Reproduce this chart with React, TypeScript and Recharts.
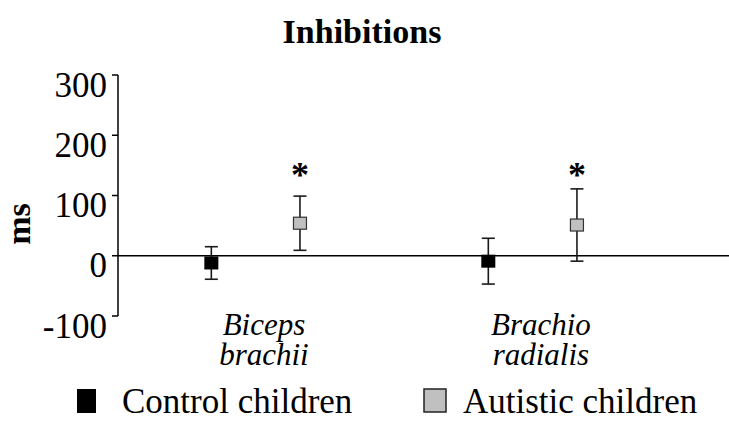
import { ComposedChart, Scatter, XAxis, YAxis, ErrorBar, ReferenceLine, Legend } from 'recharts';

const categories = ['Biceps brachii', 'Brachio radialis'];
const controlMeans = [-12, -9];
const controlErrors = [27, 38];
const autisticMeans = [54, 51];
const autisticErrors = [45, 60];
const significant = [true, true];
const yTicks = [-100, 0, 100, 200, 300];
const starLevel = 145;

const SERIF = '"Liberation Serif", "Times New Roman", serif';
// horizontal placement of each group inside its category slot
const CONTROL_OFFSET = -0.19;
const AUTISTIC_OFFSET = 0.13;

const controlData = categories.map((c, i) => ({ name: c, x: i + 1 + CONTROL_OFFSET, y: controlMeans[i], err: controlErrors[i] }));
const autisticData = categories.map((c, i) => ({ name: c, x: i + 1 + AUTISTIC_OFFSET, y: autisticMeans[i], err: autisticErrors[i] }));
const starData = categories
  .map((c, i) => ({ name: c, x: i + 1 + AUTISTIC_OFFSET, y: starLevel, sig: significant[i] }))
  .filter((d) => d.sig);

const ControlSquare = (p: any) => <rect x={p.cx - 7} y={p.cy - 6.5} width={14} height={13} fill="#000" />;
const AutisticSquare = (p: any) => (
  <rect x={p.cx - 6.5} y={p.cy - 6} width={13} height={12} fill="#c0c0c0" stroke="#333" strokeWidth={1.2} />
);
const Star = (p: any) => (
  <text x={p.cx} y={p.cy + 19} textAnchor="middle" fontFamily={SERIF} fontWeight="bold" fontSize={36} fill="#000">
    *
  </text>
);

const YTick = ({ x, y, payload }: any) => (
  <text x={x} y={y + 10} textAnchor="end" dominantBaseline="central" fontFamily={SERIF} fontSize={35} fill="#000">
    {payload.value}
  </text>
);

const XTick = ({ x, y, payload }: any) => {
  const label = categories[payload.value - 1];
  if (!label) return null;
  const [l1, l2] = label.split(' ');
  return (
    <g>
      <text x={x} y={y + 19} textAnchor="middle" fontFamily={SERIF} fontStyle="italic" fontSize={31} fill="#000">{l1}</text>
      <text x={x} y={y + 49} textAnchor="middle" fontFamily={SERIF} fontStyle="italic" fontSize={31} fill="#000">{l2}</text>
    </g>
  );
};

const LegendBox = () => (
  <svg width={729} height={40} style={{ display: 'block', overflow: 'visible' }}>
    <rect x={77} y={8} width={19} height={24} fill="#000" />
    <text x={122} y={32} fontFamily={SERIF} fontSize={35} fill="#000">Control children</text>
    <rect x={424} y={8} width={22} height={23} fill="#c0c0c0" stroke="#222" strokeWidth={1.5} />
    <text x={463} y={32} fontFamily={SERIF} fontSize={35} fill="#000">Autistic children</text>
  </svg>
);

export default function App() {
  return (
    <div style={{ position: 'absolute', left: 0, top: 0, background: '#fff' }}>
      <ComposedChart width={729} height={421} margin={{ top: 75, right: 0, bottom: 0, left: 0 }}>
        <text x={362} y={43} textAnchor="middle" fontFamily={SERIF} fontWeight="bold" fontSize={34} fill="#000">
          Inhibitions
        </text>
        <text transform="translate(30,224) rotate(-90)" textAnchor="middle" fontFamily={SERIF} fontWeight="bold" fontSize={34} fill="#000">
          ms
        </text>
        <XAxis
          type="number"
          dataKey="x"
          domain={[0.473, 2.679]}
          ticks={[1, 2]}
          axisLine={false}
          tickLine={false}
          tickSize={0}
          tickMargin={0}
          height={65}
          tick={<XTick />}
          allowDataOverflow
        />
        <YAxis
          type="number"
          dataKey="y"
          domain={[-100, 300]}
          ticks={yTicks}
          width={118}
          tickSize={6}
          tickMargin={5}
          axisLine={{ stroke: '#000', strokeWidth: 1.5 }}
          tickLine={{ stroke: '#000', strokeWidth: 1.5 }}
          tick={<YTick />}
          allowDataOverflow
        />
        <ReferenceLine y={0} stroke="#000" strokeWidth={1.5} />
        <Scatter name="Control children" data={controlData} shape={ControlSquare} isAnimationActive={false}>
          <ErrorBar dataKey="err" direction="y" width={6.5} stroke="#1a1a1a" strokeWidth={1.6} />
        </Scatter>
        <Scatter name="Autistic children" data={autisticData} shape={AutisticSquare} isAnimationActive={false}>
          <ErrorBar dataKey="err" direction="y" width={6.5} stroke="#1a1a1a" strokeWidth={1.6} />
        </Scatter>
        <Scatter name="significance" data={starData} shape={Star} isAnimationActive={false} legendType="none" />
        <Legend verticalAlign="bottom" height={40} content={() => <LegendBox />} />
      </ComposedChart>
    </div>
  );
}
